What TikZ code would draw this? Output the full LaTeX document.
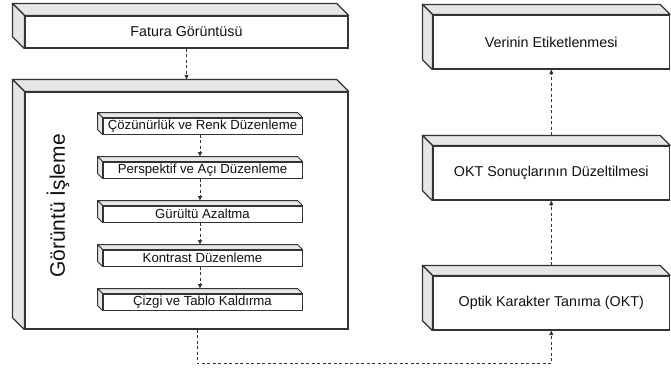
\documentclass[tikz,border=0pt]{standalone}
\usepackage{fontspec}
\setmainfont{Liberation Sans}
\usetikzlibrary{arrows.meta}
\definecolor{strokec}{HTML}{333333}
\definecolor{sidec}{HTML}{E6E6E6}
\definecolor{textc}{HTML}{111111}
\newcommand{\cubesides}[3]{% node, depth, line width
  \filldraw[draw=strokec, line width=#3, line join=round, fill=sidec] (#1.north west) -- (#1.north east) -- ([xshift=-#2pt,yshift=#2pt]#1.north east) -- ([xshift=-#2pt,yshift=#2pt]#1.north west) -- cycle;
  \filldraw[draw=strokec, line width=#3, line join=round, fill=sidec] (#1.north west) -- ([xshift=-#2pt,yshift=#2pt]#1.north west) -- ([xshift=-#2pt,yshift=#2pt]#1.south west) -- (#1.south west) -- cycle;
}
\tikzset{
  front/.style={draw=strokec, line width=1.2pt, fill=white, inner sep=0pt, text=textc,
    font=\fontsize{14.3}{16}\selectfont},
  smallfront/.style={draw=strokec, line width=1pt, fill=white, inner sep=0pt, text=textc,
    font=\fontsize{13.2}{15}\selectfont, minimum width=199pt, minimum height=16pt},
  conn/.style={draw=strokec, line width=0.9pt, dash pattern=on 3pt off 2.5pt,
    -{Triangle[length=4.5pt,width=4pt]}}
}
\begin{document}
\begin{tikzpicture}[x=1pt,y=-1pt]
\useasboundingbox (0,0) rectangle (671,367);
% left column
\node[front, minimum width=323pt, minimum height=32pt] (fat) at (186.5,32) {Fatura Görüntüsü};
\cubesides{fat}{12}{1.2pt}
\node[front, minimum width=323pt, minimum height=237pt] (big) at (186.5,210.5) {};
\cubesides{big}{12}{1.2pt}
\node[text=textc, font=\fontsize{21}{23}\selectfont, rotate=90] (lbl) at (58,206) {Görüntü İşleme};
\node[smallfront] (b1) at (202.5,126) {Çözünürlük ve Renk Düzenleme};
\cubesides{b1}{5}{1pt}
\node[smallfront] (b2) at (202.5,170) {Perspektif ve Açı Düzenleme};
\cubesides{b2}{5}{1pt}
\node[smallfront] (b3) at (202.5,214) {Gürültü Azaltma};
\cubesides{b3}{5}{1pt}
\node[smallfront] (b4) at (202.5,258) {Kontrast Düzenleme};
\cubesides{b4}{5}{1pt}
\node[smallfront] (b5) at (202.5,302) {Çizgi ve Tablo Kaldırma};
\cubesides{b5}{5}{1pt}
% right column
\node[front, minimum width=236.5pt, minimum height=54pt] (ver) at (551.25,42) {Verinin Etiketlenmesi};
\cubesides{ver}{10}{1.2pt}
\node[front, minimum width=236.5pt, minimum height=54pt] (fix) at (551.25,173) {OKT Sonuçlarının Düzeltilmesi};
\cubesides{fix}{10}{1.2pt}
\node[front, minimum width=236.5pt, minimum height=54pt] (ocr) at (551.25,303) {Optik Karakter Tanıma (OKT)};
\cubesides{ocr}{10}{1.2pt}
% connectors
\draw[conn] (fat.south) -- ([yshift=12pt]big.north);
\draw[conn] ([xshift=-2.5pt]b1.south) -- ([xshift=-2.5pt,yshift=5pt]b2.north);
\draw[conn] ([xshift=-2.5pt]b2.south) -- ([xshift=-2.5pt,yshift=5pt]b3.north);
\draw[conn] ([xshift=-2.5pt]b3.south) -- ([xshift=-2.5pt,yshift=5pt]b4.north);
\draw[conn] ([xshift=-2.5pt]b4.south) -- ([xshift=-2.5pt,yshift=5pt]b5.north);
\draw[conn] ([xshift=10.5pt]big.south) -- ++(0,34) -| (ocr.south);
\draw[conn] ([yshift=10pt]ocr.north) -- (fix.south);
\draw[conn] ([yshift=10pt]fix.north) -- (ver.south);
\end{tikzpicture}
\end{document}
